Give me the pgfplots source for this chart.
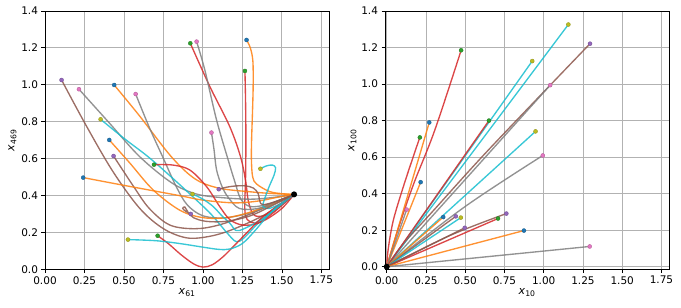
\documentclass[border=0pt]{standalone}
\usepackage{pgfplots}
\pgfplotsset{compat=1.18}
\usepackage{fontspec}
\setmainfont{DejaVu Sans}
\definecolor{cB}{HTML}{1F77B4}
\definecolor{cO}{HTML}{FF7F0E}
\definecolor{cG}{HTML}{2CA02C}
\definecolor{cR}{HTML}{D62728}
\definecolor{cP}{HTML}{9467BD}
\definecolor{cBr}{HTML}{8C564B}
\definecolor{cPk}{HTML}{E377C2}
\definecolor{cGy}{HTML}{7F7F7F}
\definecolor{cOl}{HTML}{BCBD22}
\definecolor{cC}{HTML}{17BECF}
\pgfplotsset{
  myax/.style={
    width=284.3pt, height=258.3pt, scale only axis, anchor=south west,
    xmax=1.8, ymax=1.4,
    grid=major, grid style={color=black!30, line width=0.9pt},
    axis line style={line width=0.8pt},
    tick align=outside, xtick pos=bottom, ytick pos=left,
    major tick length=3.5pt, tick style={black, line width=0.8pt},
    xtick={0,0.25,0.5,0.75,1,1.25,1.5,1.75},
    ytick={0,0.2,0.4,0.6,0.8,1.0,1.2,1.4},
    tick label style={font=\fontsize{10.5}{12}\selectfont},
    /pgf/number format/assume math mode=true,
    xticklabel style={/pgf/number format/.cd, fixed, fixed zerofill, precision=2},
    yticklabel style={/pgf/number format/.cd, fixed, fixed zerofill, precision=1},
    label style={font=\fontsize{11}{12}\selectfont},
    xlabel style={yshift=3pt},
    ylabel style={yshift=-2pt},
    every axis plot/.append style={line width=1.35pt, opacity=0.85},
  },
  ln/.style={#1, smooth, tension=0.55, no marks},
  dt/.style={only marks, mark=*, mark size=2pt, draw=#1!80!black, fill=#1, opacity=1, mark options={line width=0.4pt}},
}
\begin{document}
\begin{tikzpicture}
\begin{axis}[myax, at={(45pt,38.7pt)}, xmin=0, ymin=0,
  xlabel={\textit{x}\textsubscript{61}}, ylabel={\textit{x}\textsubscript{469}}]
% A
\addplot[ln=cO] coordinates {(1.276,1.243) (1.300,1.200) (1.316,1.130) (1.318,1.000) (1.314,0.860) (1.308,0.700) (1.307,0.590) (1.315,0.500) (1.340,0.462) (1.420,0.422) (1.500,0.410) (1.577,0.406)};
% B
\addplot[ln=cR] coordinates {(1.266,1.075) (1.270,0.900) (1.272,0.700) (1.270,0.500) (1.265,0.330) (1.280,0.270) (1.330,0.250) (1.400,0.270) (1.500,0.330) (1.577,0.406)};
% C
\addplot[ln=cR] coordinates {(0.920,1.225) (1.044,0.990) (1.170,0.773) (1.238,0.610) (1.270,0.480) (1.290,0.360) (1.330,0.290) (1.420,0.300) (1.500,0.350) (1.577,0.406)};
% D
\addplot[ln=cGy] coordinates {(0.960,1.234) (1.012,1.080) (1.086,0.810) (1.160,0.592) (1.200,0.480) (1.240,0.380) (1.300,0.340) (1.400,0.350) (1.500,0.380) (1.577,0.406)};
% E
\addplot[ln=cBr] coordinates {(0.105,1.026) (0.260,0.780) (0.430,0.530) (0.600,0.330) (0.750,0.220) (0.900,0.170) (1.050,0.180) (1.200,0.220) (1.400,0.300) (1.577,0.406)};
% F
\addplot[ln=cBr] coordinates {(0.434,0.614) (0.560,0.450) (0.660,0.330) (0.790,0.240) (0.950,0.220) (1.100,0.240) (1.300,0.300) (1.450,0.360) (1.577,0.406)};
% G
\addplot[ln=cGy] coordinates {(0.215,0.976) (0.400,0.800) (0.600,0.610) (0.800,0.470) (0.950,0.410) (1.100,0.390) (1.300,0.380) (1.450,0.390) (1.577,0.406)};
% H
\addplot[ln=cO] coordinates {(0.438,0.999) (0.600,0.830) (0.800,0.610) (0.950,0.490) (1.100,0.440) (1.300,0.420) (1.450,0.410) (1.577,0.406)};
% I
\addplot[ln=cGy] coordinates {(0.574,0.950) (0.660,0.770) (0.750,0.600) (0.830,0.450) (0.900,0.350) (1.000,0.290) (1.150,0.280) (1.350,0.320) (1.577,0.406)};
% J
\addplot[ln=cC] coordinates {(0.352,0.813) (0.500,0.710) (0.653,0.610) (0.800,0.500) (0.940,0.390) (1.050,0.300) (1.150,0.200) (1.210,0.150) (1.260,0.170) (1.350,0.250) (1.450,0.320) (1.577,0.406)};
% K
\addplot[ln=cO] coordinates {(0.407,0.701) (0.538,0.575) (0.685,0.430) (0.854,0.320) (1.000,0.280) (1.150,0.280) (1.300,0.310) (1.450,0.360) (1.577,0.406)};
% L
\addplot[ln=cGy] coordinates {(1.054,0.741) (1.070,0.650) (1.086,0.540) (1.120,0.450) (1.160,0.390) (1.230,0.330) (1.350,0.330) (1.470,0.370) (1.577,0.406)};
% M
\addplot[ln=cR] coordinates {(0.690,0.567) (0.810,0.565) (0.917,0.538) (1.023,0.448) (1.107,0.339) (1.170,0.270) (1.250,0.240) (1.350,0.250) (1.450,0.310) (1.577,0.406)};
% N
\addplot[ln=cO] coordinates {(0.242,0.497) (0.500,0.455) (0.854,0.399) (1.000,0.375) (1.200,0.360) (1.350,0.370) (1.470,0.390) (1.577,0.406)};
% O
\addplot[ln=cC] coordinates {(1.364,0.545) (1.400,0.560) (1.440,0.565) (1.460,0.550) (1.450,0.510) (1.420,0.450) (1.390,0.380) (1.380,0.340) (1.420,0.330) (1.500,0.360) (1.577,0.406)};
% P
\addplot[ln=cC] coordinates {(0.934,0.408) (1.000,0.380) (1.065,0.340) (1.120,0.290) (1.170,0.250) (1.210,0.210) (1.260,0.220) (1.350,0.260) (1.450,0.320) (1.577,0.406)};
% Q
\addplot[ln=cBr] coordinates {(1.100,0.434) (1.150,0.445) (1.210,0.452) (1.270,0.452) (1.320,0.440) (1.350,0.410) (1.360,0.370) (1.380,0.350) (1.470,0.370) (1.577,0.406)};
% R
\addplot[ln=cR] coordinates {(0.713,0.182) (0.780,0.140) (0.860,0.080) (0.940,0.030) (1.000,0.012) (1.060,0.025) (1.130,0.070) (1.200,0.130) (1.280,0.200) (1.360,0.270) (1.450,0.330) (1.577,0.406)};
% S
\addplot[ln=cC] coordinates {(0.525,0.161) (0.700,0.155) (0.850,0.140) (1.000,0.120) (1.100,0.108) (1.170,0.110) (1.250,0.140) (1.330,0.210) (1.420,0.300) (1.500,0.360) (1.577,0.406)};
% T
\addplot[ln=cBr] coordinates {(0.923,0.300) (0.890,0.315) (0.872,0.330) (0.885,0.338) (0.905,0.310) (0.940,0.280) (1.020,0.260) (1.150,0.260) (1.300,0.290) (1.450,0.350) (1.577,0.406)};
% start dots
\addplot[dt=cB] coordinates {(1.276,1.243) (0.438,0.999) (0.407,0.701) (0.242,0.497)};
\addplot[dt=cG] coordinates {(1.266,1.075) (0.920,1.225) (0.690,0.567) (0.713,0.182)};
\addplot[dt=cP] coordinates {(0.105,1.026) (0.434,0.614) (1.100,0.434) (0.923,0.300)};
\addplot[dt=cPk] coordinates {(0.960,1.234) (0.215,0.976) (0.574,0.950) (1.054,0.741)};
\addplot[dt=cOl] coordinates {(0.352,0.813) (1.364,0.545) (0.934,0.408) (0.525,0.161)};
\addplot[only marks, mark=*, mark size=2.3pt, black, opacity=1] coordinates {(1.577,0.406)};
\end{axis}

\begin{axis}[myax, at={(385pt,38.7pt)}, xmin=-0.011, ymin=-0.014,
  xlabel={\textit{x}\textsubscript{10}}, ylabel={\textit{x}\textsubscript{100}}]
\addplot[ln=cC] coordinates {(1.157,1.326) (0,0)};
\addplot[ln=cBr] coordinates {(1.295,1.221) (0.654,0.645) (0.300,0.310) (0.100,0.120) (0,0)};
\addplot[ln=cC] coordinates {(0.927,1.126) (0,0)};
\addplot[ln=cGy] coordinates {(1.041,0.994) (0,0)};
\addplot[ln=cR] coordinates {(0.474,1.185) (0.305,0.745) (0.170,0.450) (0.070,0.200) (0,0)};
\addplot[ln=cR] coordinates {(0.211,0.708) (0.175,0.618) (0.105,0.436) (0.042,0.254) (0.010,0.100) (0,0)};
\addplot[ln=cO] coordinates {(0.271,0.790) (0,0)};
\addplot[ln=cO] coordinates {(0.216,0.463) (0,0)};
\addplot[ln=cGy] coordinates {(0.127,0.313) (0,0)};
\addplot[ln=cR] coordinates {(0.651,0.800) (0,0)};
\addplot[ln=cC] coordinates {(0.948,0.741) (0,0)};
\addplot[ln=cGy] coordinates {(0.994,0.609) (0.500,0.330) (0,0)};
\addplot[ln=cO] coordinates {(0.360,0.272) (0,0)};
\addplot[ln=cBr] coordinates {(0.440,0.276) (0,0)};
\addplot[ln=cC] coordinates {(0.472,0.269) (0,0)};
\addplot[ln=cBr] coordinates {(0.762,0.291) (0.400,0.170) (0,0)};
\addplot[ln=cR] coordinates {(0.709,0.264) (0,0)};
\addplot[ln=cBr] coordinates {(0.497,0.213) (0,0)};
\addplot[ln=cO] coordinates {(0.874,0.198) (0,0)};
\addplot[ln=cGy] coordinates {(1.293,0.111) (0,0)};
% start dots
\addplot[dt=cOl] coordinates {(1.157,1.326) (0.927,1.126) (0.948,0.741) (0.472,0.269)};
\addplot[dt=cP] coordinates {(1.295,1.221) (0.440,0.276) (0.762,0.291) (0.497,0.213)};
\addplot[dt=cPk] coordinates {(1.041,0.994) (0.127,0.313) (0.994,0.609) (1.293,0.111)};
\addplot[dt=cG] coordinates {(0.474,1.185) (0.211,0.708) (0.651,0.800) (0.709,0.264)};
\addplot[dt=cB] coordinates {(0.271,0.790) (0.216,0.463) (0.360,0.272) (0.874,0.198)};
\addplot[only marks, mark=*, mark size=2.3pt, black, opacity=1] coordinates {(0,0)};
\end{axis}
\pgfresetboundingbox
\path[use as bounding box] (0pt,0pt) rectangle (681pt,308pt);
\end{tikzpicture}
\end{document}
